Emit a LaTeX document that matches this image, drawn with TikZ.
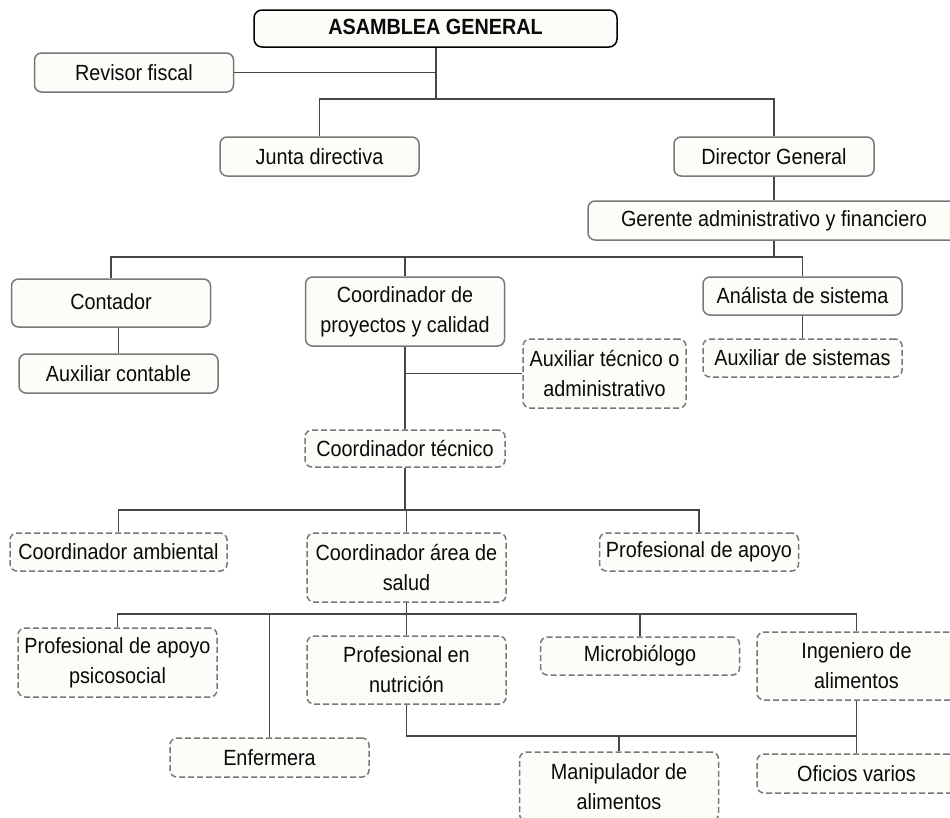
\documentclass[tikz,border=0pt]{standalone}
\usepackage{fontspec}
\setmainfont{Liberation Sans}[FakeStretch=0.9]
\definecolor{boxfill}{RGB}{253,252,248}
\definecolor{boxline}{RGB}{120,120,120}
\definecolor{wire}{RGB}{70,70,70}
\definecolor{ink}{RGB}{10,10,10}
\begin{document}
\begin{tikzpicture}[x=1pt,y=-1pt,
  every node/.style={font=\fontsize{22}{30}\selectfont, text=ink, align=center},
  unit/.style={draw=boxline, line width=1.5pt, fill=boxfill, rounded corners=7pt,
    inner sep=0pt, minimum width=199pt, minimum height=39pt},
  tall/.style={unit, minimum height=69pt},
  opt/.style={dash pattern=on 6pt off 3pt},
  top/.style={unit, draw=black, line width=1.5pt, rounded corners=8pt},
  link/.style={draw=wire, line width=1.1pt}]
\clip (0,0) rectangle (950,817);
\fill[white] (0,0) rectangle (950,817);

% upper levels
\node[top, minimum width=363pt, minimum height=37pt] (asam) at (435.5,28.5) {\raisebox{3pt}{\textbf{ASAMBLEA GENERAL}}};
\node[unit] (rev) at (134,72.5) {Revisor fiscal};
\node[unit] (junta) at (319.5,156.5) {Junta directiva};
\node[unit, minimum width=200pt] (dir) at (774,156.5) {Director General};
\node[unit, minimum width=372pt] (ger) at (774,220.5) {Gerente administrativo y financiero};

% administrative row
\node[unit, minimum height=48pt] (cont) at (111,303) {\raisebox{2pt}{Contador}};
\node[unit] (auxc) at (118.5,373.5) {Auxiliar contable};
\node[tall] (cproy) at (405,311.5) {Coordinador de\\proyectos y calidad};
\node[tall, opt, minimum width=163pt] (auxt) at (604.5,373.5) {Auxiliar técnico o\\administrativo};
\node[unit, minimum height=38pt] (anal) at (802.5,296) {Análista de sistema};
\node[unit, opt, minimum height=38pt] (auxs) at (802.5,358) {Auxiliar de sistemas};

% technical area
\node[unit, opt, minimum width=200pt, minimum height=37pt] (ctec) at (405,448.5) {Coordinador técnico};
\node[unit, opt, minimum width=217pt, minimum height=38pt] (camb) at (118.5,552) {Coordinador ambiental};
\node[tall, opt] (csal) at (406.5,567.5) {Coordinador área de\\salud};
\node[unit, opt, minimum height=38pt] (papo) at (699,552) {Profesional de apoyo};

% health area
\node[tall, opt] (psic) at (117.5,662.5) {Profesional de apoyo\\psicosocial};
\node[unit, opt] (enf) at (269.5,757.5) {Enfermera};
\node[tall, opt, minimum height=68pt] (nutr) at (406.5,670) {Profesional en\\nutrición};
\node[unit, opt, minimum height=38pt] (micro) at (640,656) {Microbiólogo};
\node[tall, opt, minimum height=68pt] (ing) at (856.5,666) {Ingeniero de\\alimentos};
\node[tall, opt] (manip) at (619,786.5) {Manipulador de\\alimentos};
\node[unit, opt] (ofic) at (856.5,773.5) {Oficios varios};

% junction points of the buses
\coordinate (b1) at (436,99);
\coordinate (b2) at (774,257);
\coordinate (b3) at (405,510);
\coordinate (b4) at (406.5,614);
\coordinate (b5) at (856.5,736);

% connectors
\draw[link] (asam.south -| b1) -- (b1);
\draw[link] (rev.east) -- (rev.east -| b1);
\draw[link] (junta.north) |- (b1);
\draw[link] (dir.north) |- (b1);
\draw[link] (dir.south) -- (ger.north);
\draw[link] (ger.south) -- (b2);
\draw[link] (cont.north) |- (b2);
\draw[link] (anal.north) |- (b2);
\draw[link] (cproy.north) -- (cproy.north |- b2);
\draw[link] (auxc.north) -- (auxc.north |- cont.south);
\draw[link] (anal.south) -- (auxs.north);
\draw[link] (cproy.south) -- (ctec.north);
\draw[link] (auxt.west) -- (auxt.west -| cproy.south);
\draw[link] (ctec.south) -- (b3);
\draw[link] (camb.north) |- (b3);
\draw[link] (papo.north) |- (b3);
\draw[link] (csal.north) -- (csal.north |- b3);
\draw[link] (csal.south) -- (nutr.north);
\draw[link] (psic.north) |- (b4);
\draw[link] (ing.north) |- (b4);
\draw[link] (enf.north) -- (enf.north |- b4);
\draw[link] (micro.north) -- (micro.north |- b4);
\draw[link] (nutr.south) |- (b5);
\draw[link] (ing.south) -- (ofic.north);
\draw[link] (manip.north) -- (manip.north |- b5);
\end{tikzpicture}
\end{document}
